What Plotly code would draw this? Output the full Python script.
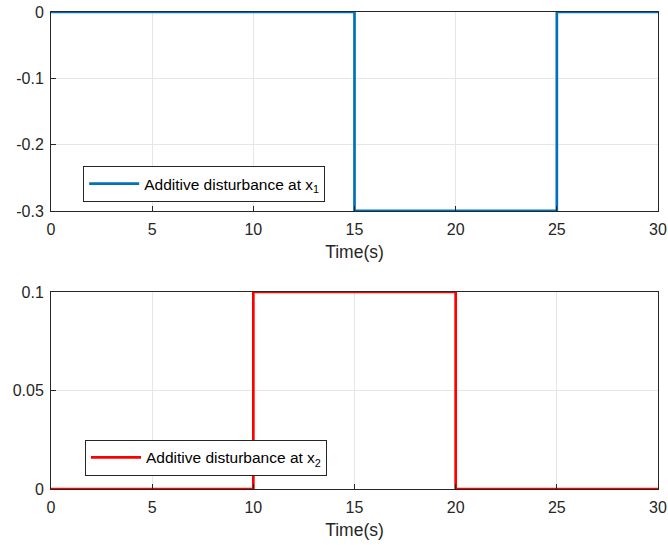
import plotly.graph_objects as go
from plotly.subplots import make_subplots

# Data: step disturbances
t1 = [0, 15, 25, 30]
d1 = [0, -0.3, 0, 0]
t2 = [0, 10, 20, 30]
d2 = [0, 0.1, 0, 0]

x_ticks = [0, 5, 10, 15, 20, 25, 30]
y1_ticks = [0, -0.1, -0.2, -0.3]
y1_labels = ["0", "-0.1", "-0.2", "-0.3"]
y2_ticks = [0, 0.05, 0.1]
y2_labels = ["0", "0.05", "0.1"]

fig = make_subplots(rows=2, cols=1, vertical_spacing=0.17)

fig.add_trace(go.Scatter(x=t1, y=d1, mode="lines", line=dict(color="#0072BD", width=2.7, shape="hv"),
                         name="Additive disturbance at x<sub>1</sub>", cliponaxis=False,
                         showlegend=True, legend="legend"), row=1, col=1)
fig.add_trace(go.Scatter(x=t2, y=d2, mode="lines", line=dict(color="#FF0000", width=2.7, shape="hv"),
                         name="Additive disturbance at x<sub>2</sub>", cliponaxis=False,
                         showlegend=True, legend="legend2"), row=2, col=1)

FAM = "Liberation Sans, Arial, sans-serif"
tick_font = dict(family=FAM, size=16, color="#262626")
title_font = dict(family=FAM, size=17.5, color="#262626")
leg_font = dict(family=FAM, size=15.5, color="#000000")

axis_common = dict(showline=True, mirror=True, linecolor="#262626", linewidth=1,
                   ticks="inside", ticklen=5, tickcolor="#262626",
                   showgrid=True, gridcolor="#e6e6e6", gridwidth=1, zeroline=False,
                   tickfont=tick_font, automargin=False)

fig.update_xaxes(range=[0, 30], tickvals=x_ticks, ticktext=[str(v) for v in x_ticks],
                 ticklabelstandoff=4,
                 title=dict(text="Time(s)", font=title_font, standoff=8), **axis_common)
fig.update_yaxes(ticklabelstandoff=3, **axis_common)
fig.update_yaxes(range=[-0.3, 0], tickvals=y1_ticks, ticktext=y1_labels, row=1, col=1)
fig.update_yaxes(range=[0, 0.1], tickvals=y2_ticks, ticktext=y2_labels, row=2, col=1)

fig.update_layout(
    width=668, height=545,
    margin=dict(l=51, r=10, t=12, b=56),
    plot_bgcolor="white", paper_bgcolor="white",
    font=tick_font,
    showlegend=True,
    yaxis=dict(domain=[0.583, 1.0]),
    yaxis2=dict(domain=[0.0, 0.413]),
    legend=dict(x=0.053, y=0.677, xanchor="left", yanchor="top", bgcolor="white",
                bordercolor="#262626", borderwidth=1, font=leg_font, itemwidth=50),
    legend2=dict(x=0.056, y=0.103, xanchor="left", yanchor="top", bgcolor="white",
                 bordercolor="#262626", borderwidth=1, font=leg_font, itemwidth=50),
)

fig.write_html("out.html")
